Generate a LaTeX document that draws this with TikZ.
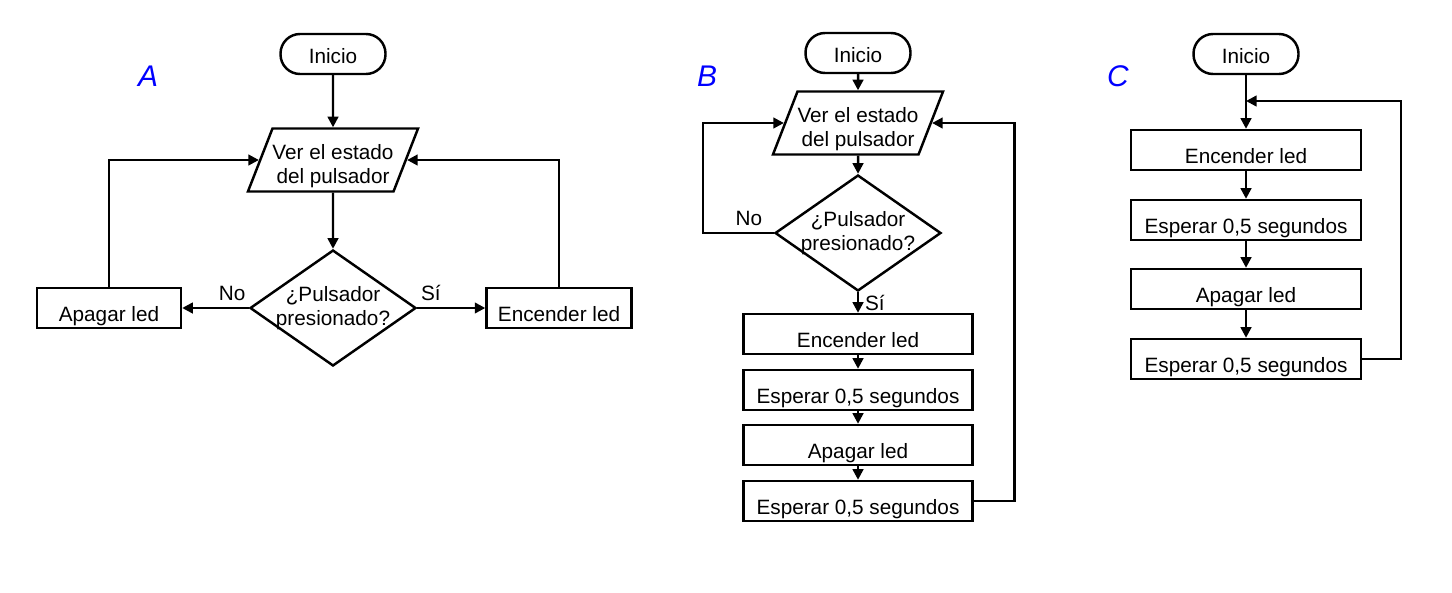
\documentclass[tikz,border=0pt]{standalone}
\usepackage{fontspec}
\setmainfont{Liberation Sans}
\usetikzlibrary{shapes.geometric,arrows.meta}
\newcommand{\doslineas}[2]{\raisebox{-7pt}[14pt][14pt]{\begin{tabular}{@{}c@{}}#1\\#2\end{tabular}}}
\tikzset{
    linea/.style={line width=1.4pt},
    flecha/.style={linea, -{Triangle[length=6pt,width=6pt]}},
    inicio/.style={draw, linea, rounded corners=0.39cm, minimum width=2.1cm, minimum height=0.8cm,
        inner sep=0pt, text height=11pt, text depth=0pt},
    entrada/.style={draw, linea, trapezium, trapezium left angle=63.5, trapezium right angle=116.5,
        trapezium stretches body=true, minimum width=3.38cm, minimum height=1.26cm, inner sep=0pt},
    pregunta/.style={draw, linea, diamond, aspect=1.43, minimum width=3.32cm, minimum height=2.32cm,
        inner sep=-2pt, align=center},
    caja/.style={draw, linea, minimum width=4.6cm, minimum height=0.8cm, inner sep=0pt,
        text height=14.8pt, text depth=0pt},
    letra/.style={text=blue, font=\fontsize{17}{20}\selectfont\itshape}
}
\begin{document}
\begin{tikzpicture}[x=0.02cm, y=-0.02cm, font=\fontsize{11.8}{13.5}\selectfont]
    \useasboundingbox (0,0) rectangle (1452,592);
    % A
    \node[letra] (etqA) at (148,76) {A};
    \node[inicio] (iniA) at (333,54) {Inicio};
    \node[entrada] (verA) at (333,160) {\doslineas{Ver el estado}{del pulsador}};
    \node[pregunta] (pregA) at (333,308) {¿Pulsador\\presionado?};
    \node[caja, minimum width=2.88cm] (apagA) at (109,308) {Apagar led};
    \node[caja, minimum width=2.9cm] (encA) at (559,308) {Encender led};
        \draw[flecha] (iniA) -- (verA);
        \draw[flecha] (verA) -- (pregA);
        \draw[flecha] (pregA.west) -- node[above, pos=0.25]{No} (apagA.east);
        \draw[flecha] (pregA.east) -- node[above, pos=0.2]{Sí} (encA.west);
        \draw[flecha] (apagA.north) |- (verA.west);
        \draw[flecha] (encA.north) |- (verA.east);
    % B
    \node[letra] (etqB) at (707,76) {B};
    \node[inicio] (iniB) at (858,53) {Inicio};
    \node[entrada] (verB) at (858,123) {\doslineas{Ver el estado}{del pulsador}};
    \node[pregunta] (pregB) at (858,233) {¿Pulsador\\presionado?};
    \node[caja, minimum width=4.58cm] (encB) at (858,334) {Encender led};
    \node[caja, minimum width=4.58cm] (espB1) at (858,390) {Esperar 0,5 segundos};
    \node[caja, minimum width=4.58cm] (apagB) at (858,445) {Apagar led};
    \node[caja, minimum width=4.58cm] (espB2) at (858,501) {Esperar 0,5 segundos};
        \draw[flecha] (iniB) -- (verB);
        \draw[flecha] (verB) -- (pregB);
        \draw[flecha] (pregB.west) -- node[above, pos=0.35]{No} ++(-71,0) |- (verB.west);
        \draw[flecha] (pregB.south) -- node[right]{Sí} (encB);
        \draw[flecha] (encB) -- (espB1);
        \draw[flecha] (espB1) -- (apagB);
        \draw[flecha] (apagB) -- (espB2);
        \draw[flecha] (espB2.east) -- ++(41,0) |- (verB.east);
    % C
    \node[letra] (etqC) at (1118,76) {C};
    \node[inicio] (iniC) at (1246,54) {Inicio};
    \node[caja] (encC) at (1246,150) {Encender led};
    \node[caja] (espC1) at (1246,220) {Esperar 0,5 segundos};
    \node[caja] (apagC) at (1246,289) {Apagar led};
    \node[caja] (espC2) at (1246,359) {Esperar 0,5 segundos};
    \coordinate (retC) at (1246,101);
        \draw[flecha] (iniC) -- (encC);
        \draw[flecha] (encC) -- (espC1);
        \draw[flecha] (espC1) -- (apagC);
        \draw[flecha] (apagC) -- (espC2);
        \draw[flecha] (espC2.east) -- ++(39,0) |- (retC);
\end{tikzpicture}
\end{document}
